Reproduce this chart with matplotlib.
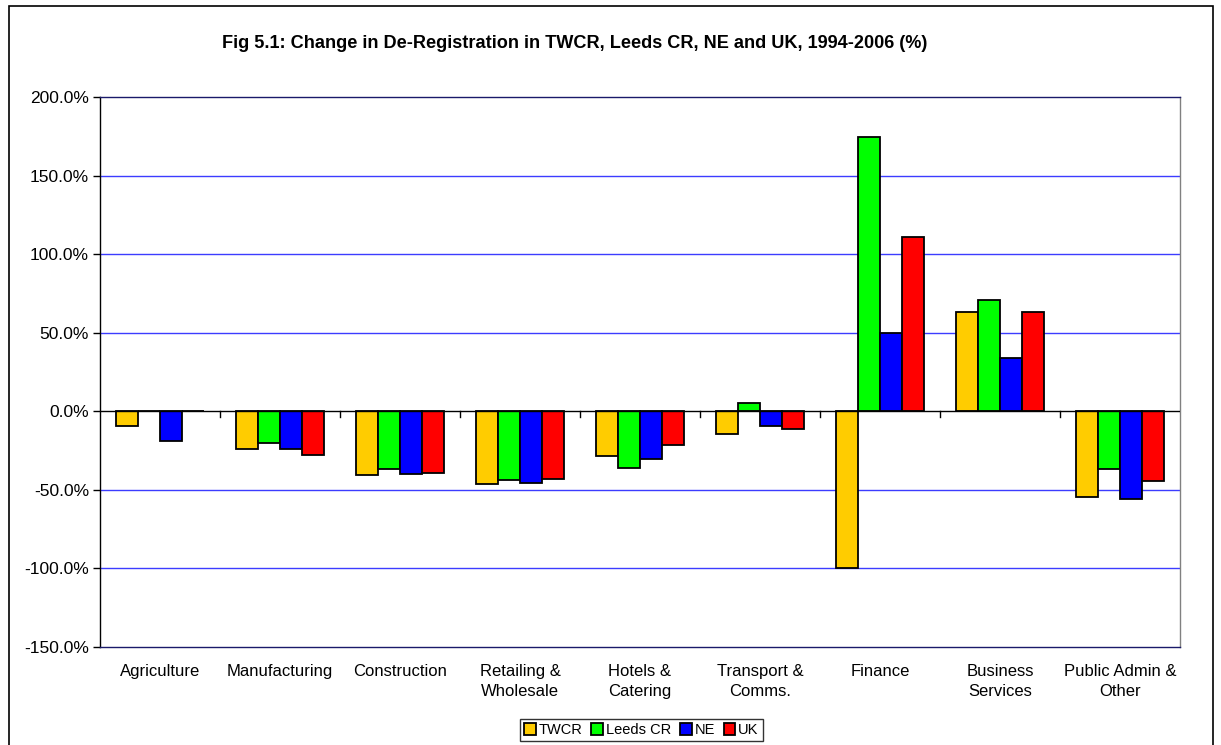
import matplotlib
matplotlib.use("Agg")
import matplotlib.pyplot as plt
import numpy as np
from matplotlib.ticker import FuncFormatter, FixedLocator
from matplotlib.patches import Rectangle

plt.rcParams['font.family'] = ['Liberation Sans', 'DejaVu Sans']

categories = ["Agriculture", "Manufacturing", "Construction", "Retailing &\nWholesale",
              "Hotels &\nCatering", "Transport &\nComms.", "Finance", "Business\nServices",
              "Public Admin &\nOther"]
series_names = ["TWCR", "Leeds CR", "NE", "UK"]
twcr = [-9.5, -24.1, -40.7, -46.2, -28.2, -14.4, -100.0, 63.2, -54.3]
leeds = [0.0, -20.3, -36.6, -44.0, -35.8, 5.0, 174.5, 70.7, -36.5]
ne = [-18.6, -24.1, -39.6, -45.5, -30.3, -9.3, 50.1, 34.0, -55.6]
uk = [0.5, -27.7, -39.2, -43.4, -21.4, -11.0, 111.2, 62.9, -44.5]
colors = ["#FFCC00", "#00FF00", "#0000FF", "#FF0000"]
yticks = [-150, -100, -50, 0, 50, 100, 150, 200]

W, H = 1221, 745
fig = plt.figure(figsize=(W / 100, H / 100), dpi=100)
fig.patches.append(Rectangle((9 / W, -0.01), (1213 - 9) / W, (745 - 6) / H + 0.01,
                             transform=fig.transFigure, fill=False, edgecolor='black',
                             linewidth=1.2, zorder=0))
ax = fig.add_axes([100 / W, (745 - 647) / H, 1080 / W, 550 / H])

x = np.arange(len(categories))
bw = 0.1833
data = [twcr, leeds, ne, uk]
for i, (vals, c, name) in enumerate(zip(data, colors, series_names)):
    ax.bar(x + (i - 1.5) * bw, vals, width=bw, color=c, edgecolor='black',
           linewidth=1.3, label=name, zorder=3)

ax.set_ylim(-150, 200)
ax.set_xlim(-0.5, len(categories) - 0.5)
ax.yaxis.set_major_locator(FixedLocator(yticks))
ax.yaxis.set_major_formatter(FuncFormatter(lambda v, p: f"{v:.1f}%"))
for t in yticks:
    if t not in (0, 200, -150):
        ax.axhline(t, color='#3c3cff', linewidth=1.0, zorder=1)
ax.axhline(0, color='black', linewidth=1.0, zorder=4)
# category tick marks on the zero line
for b in np.arange(0.5, len(categories) - 0.5, 1.0):
    ax.plot([b, b], [0, -3.5], color='black', linewidth=1.0, zorder=4)

ax.set_xticks(x)
ax.set_xticklabels(categories, fontsize=12, linespacing=1.42)
ax.tick_params(axis='x', length=0, pad=12)
ax.tick_params(axis='y', labelsize=12.5, length=5, direction='out', width=1, pad=3)
for s in ax.spines.values():
    s.set_linewidth(1.0)
    s.set_color('black')
ax.spines['top'].set_color('#1a1a6a')
ax.spines['bottom'].set_color('#1a1a6a')
ax.spines['right'].set_color('#808080')

fig.text(575 / W, 1 - 43 / H,
         "Fig 5.1: Change in De-Registration in TWCR, Leeds CR, NE and UK, 1994-2006 (%)",
         ha='center', va='center', fontsize=13.1, fontweight='bold')

leg = fig.legend(loc='center', bbox_to_anchor=(641.5 / W, 1 - 730 / H), ncol=4,
                 fontsize=10.5, frameon=True, fancybox=False, edgecolor='black',
                 handlelength=0.8, handleheight=0.8, handletextpad=0.2,
                 columnspacing=0.6, borderpad=0.3, borderaxespad=0)
leg.get_frame().set_linewidth(1.0)

fig.savefig("out.png", dpi=100)
